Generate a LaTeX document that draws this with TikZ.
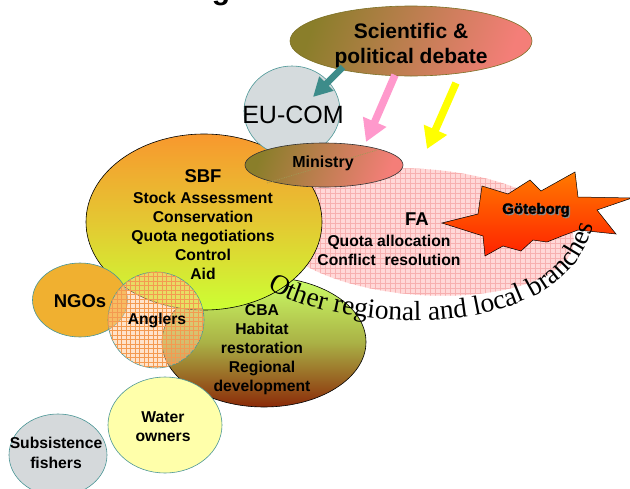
\documentclass[tikz,border=0pt]{standalone}
\usepackage{fontspec}
\setmainfont{Liberation Sans}
\newfontfamily\curvefamily{Liberation Serif}
\newfontfamily\fatfamily{Liberation Sans Bold}[FakeBold=2]
\usetikzlibrary{shapes.geometric,arrows.meta,patterns,decorations.text}
\newcommand\curvefont{\curvefamily\fontsize{27.5}{30}\selectfont}

\pgfdeclarepatternformonly{fagrid}{\pgfqpoint{-1pt}{-1pt}}{\pgfqpoint{6pt}{6pt}}{\pgfqpoint{5pt}{5pt}}{%
  \pgfsetlinewidth{0.45pt}%
  \pgfpathmoveto{\pgfqpoint{0pt}{0pt}}\pgfpathlineto{\pgfqpoint{5.1pt}{0pt}}%
  \pgfpathmoveto{\pgfqpoint{0pt}{0pt}}\pgfpathlineto{\pgfqpoint{0pt}{5.1pt}}%
  \pgfusepath{stroke}}
\pgfdeclarepatternformonly{anggrid}{\pgfqpoint{-1pt}{-1pt}}{\pgfqpoint{5.5pt}{5.5pt}}{\pgfqpoint{4.5pt}{4.5pt}}{%
  \pgfsetlinewidth{0.45pt}%
  \pgfpathmoveto{\pgfqpoint{0pt}{0pt}}\pgfpathlineto{\pgfqpoint{4.6pt}{0pt}}%
  \pgfpathmoveto{\pgfqpoint{0pt}{0pt}}\pgfpathlineto{\pgfqpoint{0pt}{4.6pt}}%
  \pgfusepath{stroke}}

\definecolor{cteal}{HTML}{4A9696}
\definecolor{arrteal}{HTML}{3D8C8A}
\definecolor{arrpink}{HTML}{FF99CC}
\definecolor{arryellow}{HTML}{FFFF00}
\definecolor{olivec}{HTML}{8A7E2A}
\definecolor{salmonc}{HTML}{F47E78}
\definecolor{sbftop}{HTML}{F8982E}
\definecolor{sbfmid}{HTML}{E4C832}
\definecolor{sbfbot}{HTML}{CCFF33}
\definecolor{cbatop}{HTML}{CCFF66}
\definecolor{cbamid}{HTML}{AAB246}
\definecolor{cbabot}{HTML}{8B2A08}
\definecolor{eugray}{HTML}{D5DBDD}
\definecolor{ngoc}{HTML}{F0B030}
\definecolor{angc}{HTML}{FFC896}
\definecolor{anggridc}{HTML}{F49A50}
\definecolor{waterc}{HTML}{FFFFAA}
\definecolor{subc}{HTML}{D5D9DB}
\definecolor{fapink}{HTML}{FFD8D8}
\definecolor{fagridc}{HTML}{F7B0B0}
\definecolor{startop}{HTML}{FF7A00}
\definecolor{starbot}{HTML}{FF2200}

\begin{document}
\begin{tikzpicture}[x=1pt,y=-1pt,
  shp/.style={ellipse, inner sep=0pt},
  tealline/.style={draw=cteal, line width=0.6pt},
  lbl/.style={font=\bfseries\fontsize{15.7}{19}\selectfont, align=center, inner sep=0pt},
  biglbl/.style={font=\bfseries\fontsize{18.5}{22}\selectfont, inner sep=0pt},
  blockarrow/.style n args={4}{line width=#1, draw=#2, -{Triangle[width=#3,length=#4]}}
]
\fill[white] (0,0) rectangle (630,488);
\useasboundingbox (0,0) rectangle (630,488);

% cut-off title letter
\node[font=\bfseries\fontsize{30}{30}\selectfont, anchor=base, inner sep=0pt] (title) at (221,-1) {g};

% FA
\node[shp, rotate=-4, minimum width=304pt, minimum height=126pt,
      preaction={fill=fapink}, pattern=fagrid, pattern color=fagridc] (fa) at (422,232) {};
% CBA
\node[shp, minimum width=204pt, minimum height=130pt, draw=black, line width=0.6pt,
      top color=cbatop, bottom color=cbabot, middle color=cbamid] (cba) at (264,342) {};
% SBF
\node[shp, minimum width=236pt, minimum height=176pt, draw=black, line width=0.6pt,
      top color=sbftop, bottom color=sbfbot, middle color=sbfmid] (sbf) at (204,222) {};
% EU-COM
\node[shp, tealline, fill=eugray, minimum width=96pt, minimum height=90pt] (eu) at (292,111) {};
% Ministry
\node[shp, draw=black!80, line width=0.6pt, left color=olivec, right color=salmonc,
      shading angle=70, minimum width=158pt, minimum height=44pt] (min) at (324,165) {};
\draw[olivec!80!white, densely dotted, line width=0.8pt] (267,183) -- (377,150);
% NGOs
\node[shp, tealline, fill=ngoc, minimum width=95pt, minimum height=74pt] (ngo) at (80,300) {};
% Anglers
\node[shp, tealline, minimum width=96pt, minimum height=96pt,
      preaction={fill=angc, fill opacity=0.5},
      postaction={pattern=anggrid, pattern color=anggridc, fill opacity=0.4}] (ang) at (156,320) {};
% Water owners
\node[shp, tealline, fill=waterc, minimum width=114pt, minimum height=96pt] (wat) at (165,425) {};
% Subsistence fishers
\node[shp, tealline, fill=subc, minimum width=98pt, minimum height=82pt] (sub) at (58,455) {};

% Goteborg star
\draw[draw=black, line width=0.5pt, top color=startop, bottom color=starbot]
  (442,223) -- (478,214) -- (482,186) -- (508,194) -- (530,180) -- (541,191)
  -- (575,172) -- (578,197) -- (632,198) -- (597,210) -- (616,234) -- (578,230)
  -- (562,236) -- (547,242) -- (533,240) -- (521,251) -- (503,246) -- (485,256)
  -- (483,236) -- cycle;
\node[font=\fatfamily\fontsize{15}{15}\selectfont, text=black!45, inner sep=0pt] (gotsh) at (537.2,211.2) {Göteborg};
\node[font=\fatfamily\fontsize{15}{15}\selectfont, inner sep=0pt] (got) at (536,210) {Göteborg};

% labels
\node[font=\fontsize{25}{25}\selectfont, inner sep=0pt] (eut) at (293,115) {EU-COM};
\node[lbl, font=\bfseries\fontsize{16}{19}\selectfont] (mint) at (323,163) {Ministry};
\node[biglbl] (sbft) at (203,176) {SBF};
\node[lbl] (sbfl) at (203,236) {Stock Assessment\\Conservation\\Quota negotiations\\Control\\Aid};
\node[biglbl] (fat) at (417,219) {FA};
\node[lbl] (fal) at (389,250) {Quota allocation\\Conflict~~resolution};
\node[biglbl] (ngot) at (80,301) {NGOs};
\node[lbl] (angt) at (157,320) {Anglers};
\node[lbl] (cbat) at (262,350) {CBA\\Habitat\\restoration\\Regional\\development};
\node[lbl] (watt) at (163,426.5) {Water\\owners};
\node[lbl, font=\bfseries\fontsize{15.7}{20}\selectfont] (subt) at (56,453) {Subsistence\\fishers};

% curved text
\path[decorate, decoration={text along path, text align=center,
      text={|\curvefont|Other regional and local branches}}]
  (266,287) .. controls (335,333) and (565,348) .. (594,224);

% Scientific & political debate
\node[shp, draw=olivec!90!black, line width=0.6pt, left color=olivec, right color=salmonc,
      shading angle=70, minimum width=242pt, minimum height=70pt] (sci) at (411,41) {};
\node[lbl, font=\bfseries\fontsize{21}{25}\selectfont] (scit) at (411,45.5) {Scientific \&\\political debate};

% arrows
\coordinate (s1) at (343,67);  \coordinate (t1) at (313,97);
\coordinate (s2) at (395,75);  \coordinate (t2) at (366,142);
\coordinate (s3) at (456,83);  \coordinate (t3) at (427,149);
\draw[blockarrow={6.5pt}{arrteal}{19pt}{19pt}] (s1) -- (t1);
\draw[blockarrow={7.5pt}{arrpink}{24pt}{22pt}] (s2) -- (t2);
\draw[blockarrow={7.5pt}{arryellow}{24pt}{21pt}] (s3) -- (t3);
\end{tikzpicture}
\end{document}
